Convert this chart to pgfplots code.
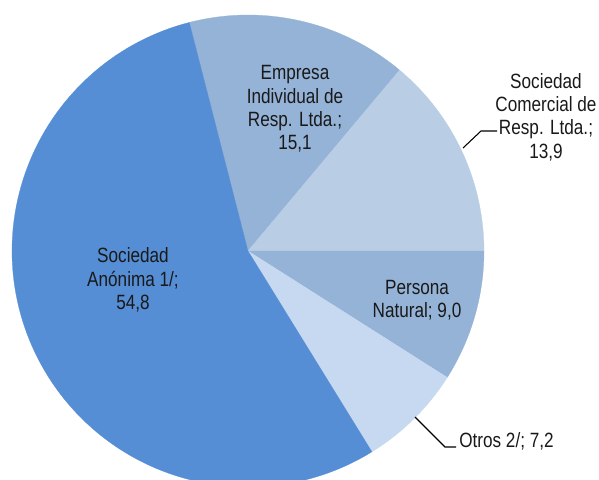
\documentclass[border=0pt]{standalone}
\usepackage{pgfplots}
\pgfplotsset{compat=1.18}
\usepackage{fontspec}
\setmainfont{Liberation Sans}[FakeStretch=0.83]
\definecolor{cAnon}{HTML}{558ED5}
\definecolor{cEmp}{HTML}{95B3D7}
\definecolor{cCom}{HTML}{B9CDE5}
\definecolor{cPer}{HTML}{95B3D7}
\definecolor{cOtr}{HTML}{C6D9F1}
\def\curang{104.4}
\newcommand{\pieslice}[2]{%
  \pgfmathsetmacro{\angA}{\curang}%
  \pgfmathsetmacro{\angB}{\curang-3.6*#1}%
  \edef\doit{\noexpand\addplot[fill=#2, draw=#2, line width=0.2pt, domain=\angB:\angA, samples=120] ({248+236*cos(x)},{228+236*sin(x)}) -- (axis cs:248,228) -- cycle;}%
  \doit
  \xdef\curang{\angB}%
}
\tikzset{lbl/.style={font=\fontsize{15.5}{17.5}\selectfont, text=black!90, inner sep=0pt}}
\begin{document}
\begin{tikzpicture}
\begin{axis}[
  hide axis, x=0.75pt, y=0.75pt,
  xmin=0, xmax=599, ymin=0, ymax=479,
  clip=true,
]
\pieslice{15.1}{cEmp}
\pieslice{13.9}{cCom}
\pieslice{9.0}{cPer}
\pieslice{7.2}{cOtr}
\pieslice{54.8}{cAnon}
\addplot[black, line width=0.8pt] coordinates {(463,331) (481,348) (497,348)};
\addplot[black, line width=0.8pt] coordinates {(415,62) (445,32) (456,32)};
\node[lbl, align=center] at (axis cs:295,370) {Empresa\\Individual de\\Resp. Ltda.;\\15,1};
\node[lbl, align=center] at (axis cs:546,362) {Sociedad\\Comercial de\\Resp. Ltda.;\\13,9};
\node[lbl, align=center] at (axis cs:133,199) {Sociedad\\Anónima 1/;\\54,8};
\node[lbl, align=center] at (axis cs:417,179) {Persona\\Natural; 9,0};
\node[lbl, anchor=west] at (axis cs:459,38) {Otros 2/; 7,2};
\end{axis}
\pgfresetboundingbox
\path[use as bounding box] (current axis.south west) rectangle (current axis.north east);
\end{tikzpicture}
\end{document}
